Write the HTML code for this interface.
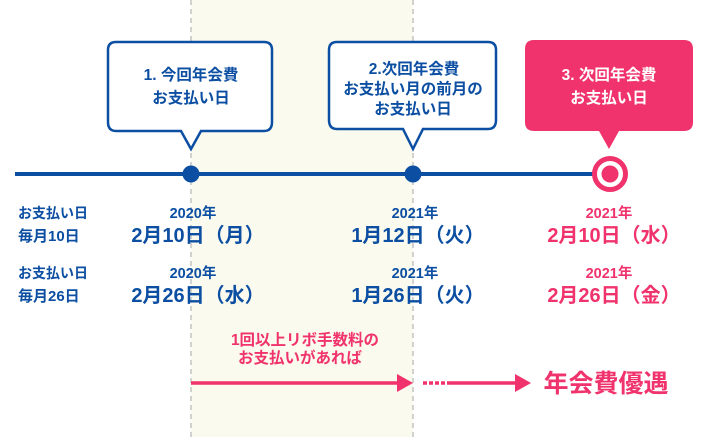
<!DOCTYPE html><html><head><meta charset="utf-8"><style>
body{margin:0;width:710px;height:437px;overflow:hidden;background:#fff}
svg text{font-family:"Liberation Sans","Noto Sans CJK JP",sans-serif;font-weight:bold}
</style></head><body>
<svg width="710" height="437" viewBox="0 0 710 437">
<rect x="191" y="0" width="222" height="437" fill="#fafaee"/>
<line x1="191" y1="0" x2="191" y2="437" stroke="#bbb" stroke-width="1.3" stroke-dasharray="5,4"/>
<line x1="413" y1="0" x2="413" y2="437" stroke="#bbb" stroke-width="1.3" stroke-dasharray="5,4"/>
<path d="M116,42 H264 Q272,42 272,50 V122 Q272,131 264,131 H201 L191,149 L181,131 H116 Q108,131 108,122 V50 Q108,42 116,42Z" fill="#fff" stroke="#0b4ea2" stroke-width="2.5"/>
<path d="M337,42 H488 Q496,42 496,50 V120 Q496,129 488,129 H423 L413,149 L403,129 H337 Q329,129 329,120 V50 Q329,42 337,42Z" fill="#fff" stroke="#0b4ea2" stroke-width="2.5"/>
<path d="M534,40 H684 Q693,40 693,49 V122 Q693,131 684,131 H619 L609,149 L599,131 H534 Q525,131 525,122 V49 Q525,40 534,40Z" fill="#f0336c"/>
<g font-size="15.5" text-anchor="middle" fill="#0b4ea2">
<text x="191" y="80">1. 今回年会費</text><text x="191" y="103">お支払い日</text>
<text x="414" y="74">2.次回年会費</text><text x="413" y="94">お支払い月の前月の</text><text x="413" y="114">お支払い日</text>
<text x="609" y="80" fill="#fff">3. 次回年会費</text><text x="609" y="103" fill="#fff">お支払い日</text>
</g>
<line x1="15" y1="174" x2="595" y2="174" stroke="#0b4ea2" stroke-width="4"/>
<circle cx="191" cy="174" r="8.5" fill="#0b4ea2"/>
<circle cx="413" cy="174" r="8.5" fill="#0b4ea2"/>
<circle cx="610" cy="174" r="15.5" fill="#fff" stroke="#f0336c" stroke-width="5"/>
<circle cx="610" cy="174" r="8.5" fill="#f0336c"/>
<g fill="#0b4ea2" font-size="14">
<text x="18" y="218">お支払い日</text><text x="18" y="241" font-size="15">毎月10日</text>
<text x="18" y="278">お支払い日</text><text x="18" y="301" font-size="15">毎月26日</text>
</g>
<g text-anchor="middle" fill="#0b4ea2">
<text x="193" y="218" font-size="14.5">2020年</text><text x="198" y="242" font-size="20">2月10日（月）</text>
<text x="193" y="278" font-size="14.5">2020年</text><text x="198" y="302" font-size="20">2月26日（水）</text>
<text x="415" y="218" font-size="14.5">2021年</text><text x="418" y="242" font-size="20">1月12日（火）</text>
<text x="415" y="278" font-size="14.5">2021年</text><text x="418" y="302" font-size="20">1月26日（火）</text>
</g>
<g text-anchor="middle" fill="#f0336c">
<text x="609" y="218" font-size="14.5">2021年</text><text x="614" y="242" font-size="20">2月10日（水）</text>
<text x="609" y="278" font-size="14.5">2021年</text><text x="614" y="302" font-size="20">2月26日（金）</text>
<text x="305" y="345" font-size="15.5">1回以上リボ手数料の</text>
<text x="300" y="363" font-size="15.5">お支払いがあれば</text>
<text x="606" y="392" font-size="25">年会費優遇</text>
</g>
<line x1="191" y1="383" x2="400" y2="383" stroke="#f0336c" stroke-width="3.5"/>
<path d="M397,374 L413,383 L397,392Z" fill="#f0336c"/>
<line x1="423" y1="383" x2="445" y2="383" stroke="#f0336c" stroke-width="3.5" stroke-dasharray="4,2"/>
<line x1="447" y1="383" x2="518" y2="383" stroke="#f0336c" stroke-width="3.5"/>
<path d="M515,374 L531,383 L515,392Z" fill="#f0336c"/>
</svg></body></html>
